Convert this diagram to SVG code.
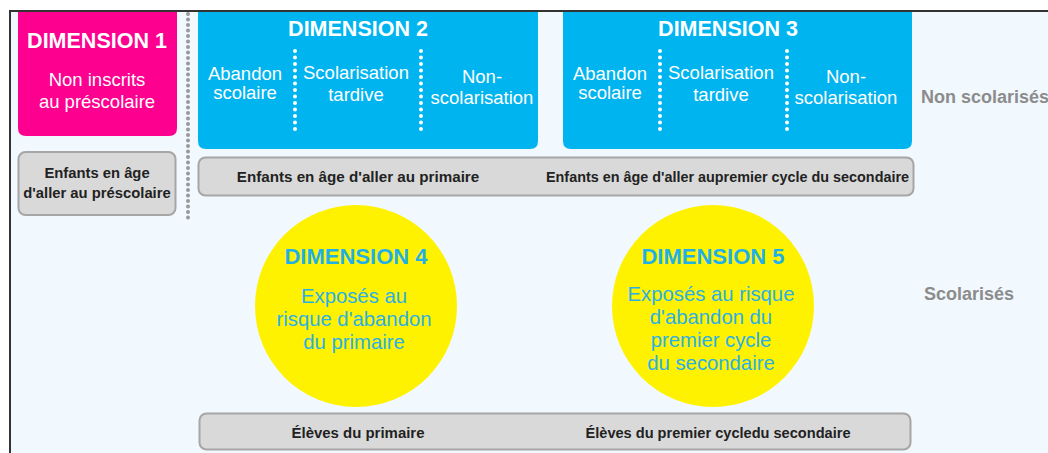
<svg xmlns="http://www.w3.org/2000/svg" width="1048" height="453" viewBox="0 0 1048 453">
<style>
.t{font-family:"Liberation Sans",Arial,sans-serif}
.h{font-weight:bold;font-size:21.5px;fill:#fff;text-anchor:middle}
.w{font-size:18.5px;fill:#fff;text-anchor:middle}
.g{font-weight:bold;font-size:15.2px;fill:#222;text-anchor:middle}
.gb{fill:#d9d9d9;stroke:#a6a6a6;stroke-width:2}
.blue{fill:#00b4f0}
.ch{font-weight:bold;font-size:22px;fill:#1fb0e8;text-anchor:middle}
.cw{font-size:20.3px;fill:#2ab0e6;text-anchor:middle}
.side{font-weight:bold;font-size:18px;fill:#8c8c8c}
.wd{stroke:#fff;stroke-width:4;stroke-linecap:round;stroke-dasharray:0 6.5}
</style>
<rect x="0" y="0" width="1048" height="453" fill="#fff"/>
<rect x="10" y="11" width="1038" height="442" fill="#f1f8fe"/>
<path d="M10 453 V11 H1048" fill="none" stroke="#333" stroke-width="2"/>
<g id="connectors">
<line x1="188" y1="14" x2="188" y2="222" stroke="#999" stroke-width="4" stroke-linecap="round" stroke-dasharray="0 5.5"/>
</g>
<g id="dim1">
<path d="M18 12 H177 V128 Q177 136 169 136 H26 Q18 136 18 128 Z" fill="#fd0090"/>
<text class="t h" x="97" y="48">DIMENSION 1</text>
<text class="t w" x="97" y="86">Non inscrits</text>
<text class="t w" x="97" y="108">au préscolaire</text>
</g>
<g id="age-prescolaire">
<rect class="gb" x="18.5" y="152" width="157" height="63" rx="7"/>
<text class="t g" x="97" y="178" style="font-size:14.8px">Enfants en âge</text>
<text class="t g" x="97" y="198" style="font-size:14.8px">d'aller au préscolaire</text>
</g>
<g id="dim2">
<path class="blue" d="M198 12 H538 V141 Q538 149 530 149 H206 Q198 149 198 141 Z"/>
<text class="t h" x="358" y="36">DIMENSION 2</text>
<line class="wd" x1="295" y1="51" x2="295" y2="133"/>
<line class="wd" x1="421" y1="51" x2="421" y2="133"/>
<text class="t w" x="245" y="80">Abandon</text>
<text class="t w" x="245" y="99">scolaire</text>
<text class="t w" x="356" y="79">Scolarisation</text>
<text class="t w" x="356" y="101">tardive</text>
<text class="t w" x="482" y="83">Non-</text>
<text class="t w" x="482" y="104">scolarisation</text>
</g>
<g id="dim3">
<path class="blue" d="M563 12 H912 V141 Q912 149 904 149 H571 Q563 149 563 141 Z"/>
<text class="t h" x="728" y="36">DIMENSION 3</text>
<line class="wd" x1="660" y1="51" x2="660" y2="133"/>
<line class="wd" x1="787" y1="51" x2="787" y2="133"/>
<text class="t w" x="610" y="80">Abandon</text>
<text class="t w" x="610" y="99">scolaire</text>
<text class="t w" x="721" y="79">Scolarisation</text>
<text class="t w" x="721" y="101">tardive</text>
<text class="t w" x="846" y="83">Non-</text>
<text class="t w" x="846" y="104">scolarisation</text>
</g>
<g id="age-bar">
<rect class="gb" x="198.5" y="157.5" width="715" height="38" rx="7"/>
<text class="t g" x="358" y="182">Enfants en âge d'aller au primaire</text>
<text class="t g" x="727.5" y="182" textLength="363" lengthAdjust="spacingAndGlyphs">Enfants en âge d'aller aupremier cycle du secondaire</text>
</g>
<g id="dim4">
<circle cx="356" cy="306" r="101" fill="#fff200"/>
<text class="t ch" x="356" y="264">DIMENSION 4</text>
<text class="t cw" x="354" y="303">Exposés au</text>
<text class="t cw" x="354" y="326">risque d'abandon</text>
<text class="t cw" x="354" y="349">du primaire</text>
</g>
<g id="dim5">
<circle cx="713" cy="306" r="101" fill="#fff200"/>
<text class="t ch" x="713" y="264">DIMENSION 5</text>
<text class="t cw" x="711" y="301">Exposés au risque</text>
<text class="t cw" x="711" y="324">d'abandon du</text>
<text class="t cw" x="711" y="347">premier cycle</text>
<text class="t cw" x="711" y="370">du secondaire</text>
</g>
<g id="eleves-bar">
<rect class="gb" x="199.5" y="413.5" width="711" height="36" rx="7"/>
<text class="t g" x="358" y="438" textLength="133" lengthAdjust="spacingAndGlyphs">Élèves du primaire</text>
<text class="t g" x="718" y="438" textLength="265" lengthAdjust="spacingAndGlyphs">Élèves du premier cycledu secondaire</text>
</g>
<g id="labels">
<text class="t side" x="921" y="103">Non scolarisés</text>
<text class="t side" x="924" y="300">Scolarisés</text>
</g>
</svg>
